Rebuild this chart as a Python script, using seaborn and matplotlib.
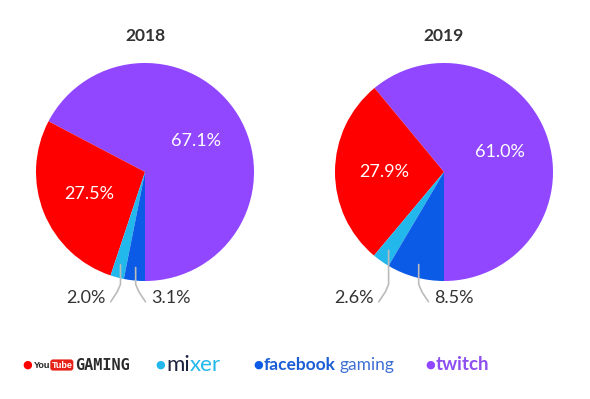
import numpy as np
import matplotlib
matplotlib.use("Agg")
import matplotlib.pyplot as plt
import seaborn as sns

# share of hours watched per platform
platforms = ["Twitch", "YouTube Gaming", "Mixer", "Facebook Gaming"]
years = ["2018", "2019"]
share_2018 = [67.1, 27.5, 2.0, 3.1]
share_2019 = [61.0, 27.9, 2.6, 8.5]
colors = ["#9146ff", "#ff0000", "#22b8eb", "#0b5be6"]

sns.set_theme(style="white")
plt.rcParams["font.family"] = ["Lato", "DejaVu Sans"]

W, H = 590, 399
fig = plt.figure(figsize=(W / 100, H / 100), dpi=100)
TXT = "#333333"


def pie_axes(cx):
    # pie centred at pixel (cx, 172), radius about 109 px
    w, h = 283.4, 300
    return fig.add_axes([(cx - w / 2) / W, 1 - (22 + h) / H, w / W, h / H])


def draw_pie(ax, values, year):
    wedges, _ = ax.pie(values, colors=colors, startangle=-90, counterclock=True,
                       wedgeprops=dict(linewidth=0))
    for i, (wd, v) in enumerate(zip(wedges, values)):
        mid = np.deg2rad((wd.theta1 + wd.theta2) / 2)
        if v > 10:
            ax.text(0.55 * np.cos(mid), 0.55 * np.sin(mid), f"{v:.1f}%",
                    color="white", fontsize=13, ha="center", va="center")
        else:
            side = -1 if i == 2 else 1
            x0, y0 = 0.88 * np.cos(mid), 0.88 * np.sin(mid)
            ax.plot([x0, x0, x0 + side * 0.03, x0 + side * 0.09],
                    [y0, -1.03, -1.1, -1.19],
                    color="#bbbbbb", lw=1.2, solid_capstyle="round")
            ax.text(x0 + side * 0.14, -1.16, f"{v:.1f}%", color=TXT, fontsize=13,
                    ha="right" if side < 0 else "left", va="center")
    ax.text(0, 1.248, year, ha="center", va="center", fontsize=12.5,
            fontweight="bold", color=TXT)
    ax.set_xlim(-1.3, 1.3)
    ax.set_ylim(-1.376, 1.376)
    ax.set_aspect("auto")
    ax.axis("off")


draw_pie(pie_axes(145), share_2018, years[0])
draw_pie(pie_axes(444), share_2019, years[1])

# legend row with platform names, pieces placed one after another
ly = 1 - 365 / H
renderer = fig.canvas.get_renderer()


def piece(px, s, gap=0, **kw):
    t = fig.text(px / W, ly, s, ha="left", va="center", **kw)
    bb = t.get_window_extent(renderer)
    return bb.x1 + gap


def dot(px, c):
    fig.text(px / W, ly, "●", color=c, fontsize=8, ha="center", va="center",
             family="DejaVu Sans")


dot(27, colors[1])
x = piece(34, "You", 1, color="#222222", fontsize=6.5, fontweight="bold",
          family="Liberation Sans")
x = piece(x, "Tube", 3, color="white", fontsize=6.5, fontweight="bold",
          family="Liberation Sans",
          bbox=dict(boxstyle="round,pad=0.12,rounding_size=0.3", fc="#e62117", ec="none"))
piece(x, "GAMING", color="#2b2b2b", fontsize=11, fontweight="bold",
      family="DejaVu Sans Mono")

dot(160, colors[2])
x = piece(166, "mi", color="#1c2340", fontsize=16)
piece(x, "xer", color="#22b8eb", fontsize=16)

dot(258, colors[3])
x = piece(264, "facebook", 4, color="#1a5ed6", fontsize=12.5, fontweight="bold")
piece(x, "gaming", color="#3f6fd6", fontsize=12.5)

dot(430, colors[0])
piece(436, "twitch", color="#8e4ff0", fontsize=13.5, fontweight="bold")

fig.savefig("out.png", dpi=100)
